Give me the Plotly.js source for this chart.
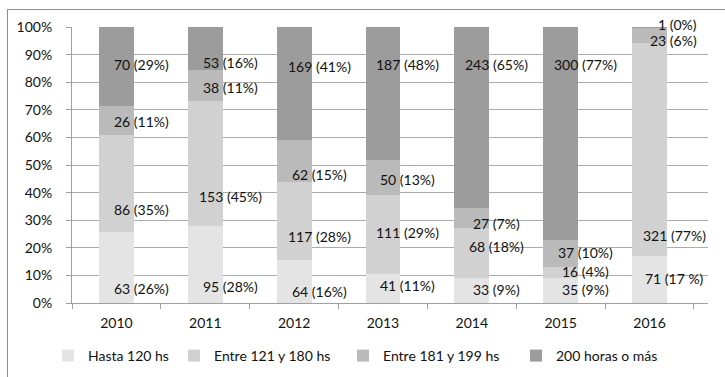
<!DOCTYPE html>
<html>
<head>
<meta charset="utf-8">
<script src="https://cdn.plot.ly/plotly-3.0.1.min.js"></script>
<style>
  html, body { margin: 0; padding: 0; background: #fff; overflow: hidden; }
  #wrap { position: relative; width: 725px; height: 377px; }
  #chart { position: absolute; left: 0; top: 0; width: 725px; height: 377px; }
  #frame { position: absolute; left: 7px; top: 9px; width: 740px; height: 400px;
           border: 1px solid #8c8c8c; pointer-events: none; }
  #err { position: absolute; left: 100px; top: 100px; color: red; font-size: 11px; }
</style>
</head>
<body>
<div id="wrap"><div id="chart"></div><div id="frame"></div><pre id="err"></pre></div>
<script>
// ---- data ----
const years = ["2010", "2011", "2012", "2013", "2014", "2015", "2016"];
const seriesNames = ["Hasta 120 hs", "Entre 121 y 180 hs", "Entre 181 y 199 hs", "200 horas o más"];
const hasta120 = [63, 95, 64, 41, 33, 35, 71];
const entre121_180 = [86, 153, 117, 111, 68, 16, 321];
const entre181_199 = [26, 38, 62, 50, 27, 37, 23];
const mas200 = [70, 53, 169, 187, 243, 300, 1];
const pctHasta120 = ["26%", "28%", "16%", "11%", "9%", "9%", "17 %"];
const pctEntre121_180 = ["35%", "45%", "28%", "29%", "18%", "4%", "77%"];
const pctEntre181_199 = ["11%", "11%", "15%", "13%", "7%", "10%", "6%"];
const pctMas200 = ["29%", "16%", "41%", "48%", "65%", "77%", "0%"];

// ---- label placement (layout) ----
const labelYHasta = [5.2, 5.8, 4.3, 6.4, 4.9, 4.9, 8.9];
const labelYE121 = [33.7, 38.5, 24.2, 25.4, 20.6, 11.3, 24.6];
const labelYE181 = [65.8, 78.2, 46.4, 44.6, 28.8, 18.2, 95.2];
const labelYMas200 = [86.5, 87.2, 85.7, 86.3, 86.3, 86.3, 100];

const values = [hasta120, entre121_180, entre181_199, mas200];
const pcts = [pctHasta120, pctEntre121_180, pctEntre181_199, pctMas200];
const labelYs = [labelYHasta, labelYE121, labelYE181, labelYMas200];
const colors = ["#e4e4e4", "#d1d1d1", "#bababa", "#9c9c9c"];
const legendIds = ["legend", "legend2", "legend3", "legend4"];

const FONT = "Lato, 'Open Sans', sans-serif";

const traces = values.map((v, s) => ({
  type: "bar",
  name: seriesNames[s],
  x: years,
  y: v,
  marker: { color: colors[s] },
  hoverinfo: "none",
  legend: legendIds[s]
}));

const annotations = [];
values.forEach((v, s) => {
  v.forEach((val, i) => {
    const topRight = (i === 6 && s >= 2);
    annotations.push({
      x: i,
      y: labelYs[s][i],
      xref: "x", yref: "y",
      text: val + " (" + pcts[s][i] + ")",
      showarrow: false,
      xanchor: topRight ? "right" : "center",
      yanchor: "middle",
      xshift: topRight ? 49 : 25,
      yshift: (i === 6 && s === 3) ? 3 : 0,
      font: { family: FONT, size: 14, color: "#111" }
    });
  });
});

// legend x in container fraction (text starts ~40px right of x)
const legendPositions = [48 / 725, 174 / 725, 343 / 725, 516 / 725];
const legendStyle = (x) => ({
  orientation: "h", x: x, xanchor: "left",
  xref: "container", yref: "container",
  y: 1 - 356 / 377, yanchor: "middle",
  font: { family: FONT, size: 14, color: "#111" },
  bgcolor: "rgba(0,0,0,0)"
});

const layout = {
  width: 725, height: 377,
  margin: { l: 72, r: 17, t: 27, b: 74, pad: 0, autoexpand: false },
  paper_bgcolor: "#ffffff",
  plot_bgcolor: "#ffffff",
  barmode: "stack",
  barnorm: "percent",
  bargap: 0.607,
  showlegend: true,
  legend: legendStyle(legendPositions[0]),
  legend2: legendStyle(legendPositions[1]),
  legend3: legendStyle(legendPositions[2]),
  legend4: legendStyle(legendPositions[3]),
  xaxis: {
    type: "category",
    showline: true, linecolor: "#a0a0a0", linewidth: 1,
    ticks: "outside", ticklen: 5, tickcolor: "#a0a0a0", tickson: "boundaries",
    ticklabelstandoff: 7,
    showgrid: false,
    tickfont: { family: FONT, size: 14, color: "#111" }
  },
  yaxis: {
    range: [0, 100], dtick: 10, ticksuffix: "%",
    showline: true, linecolor: "#a0a0a0", linewidth: 1,
    ticks: "outside", ticklen: 5, tickcolor: "#a0a0a0",
    ticklabelstandoff: 11,
    showgrid: true, gridcolor: "#ababab", gridwidth: 1,
    zeroline: false,
    tickfont: { family: FONT, size: 14, color: "#111" }
  },
  annotations: annotations
};

try {
  Plotly.newPlot("chart", traces, layout, { displayModeBar: false })
    .then(() => {}, e => { document.getElementById("err").textContent = String(e && e.stack || e); });
} catch (e) {
  document.getElementById("err").textContent = String(e && e.stack || e);
}
</script>
</body>
</html>
